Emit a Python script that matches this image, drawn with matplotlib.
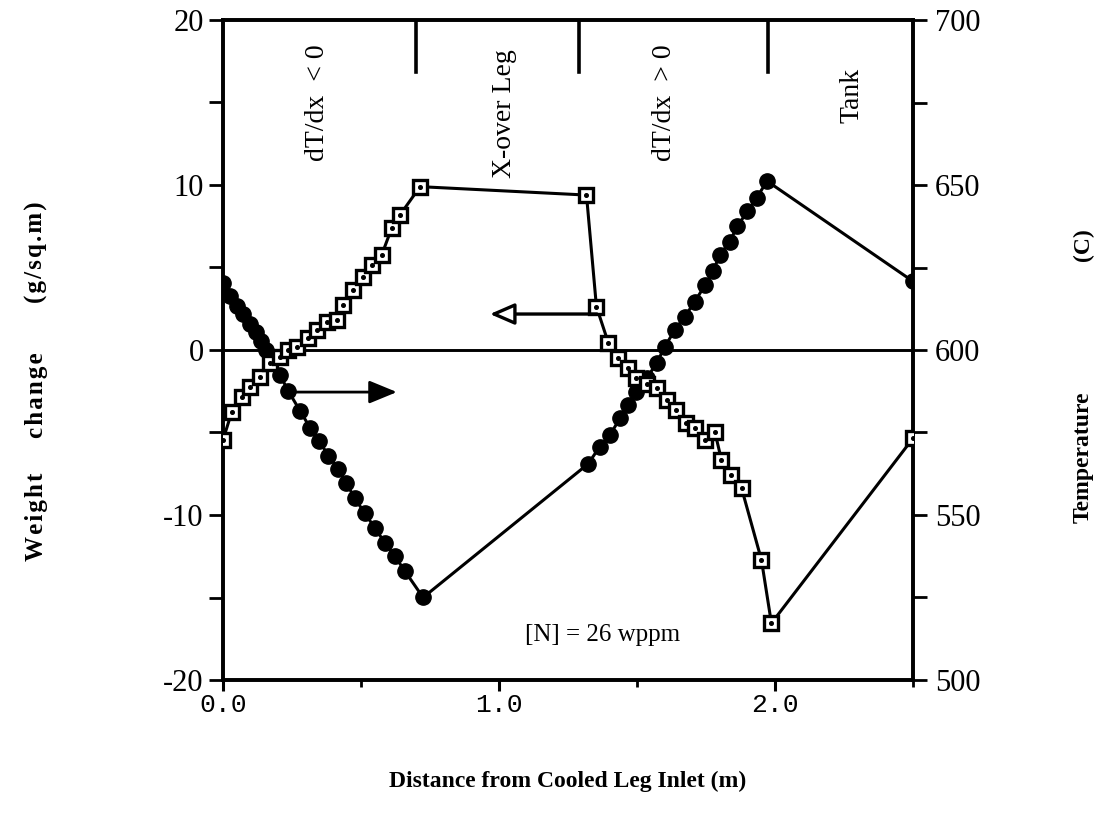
import matplotlib
matplotlib.use("Agg")
import matplotlib.pyplot as plt
from matplotlib.ticker import MultipleLocator, FixedLocator

plt.rcParams['axes.unicode_minus'] = False
plt.rcParams['font.family'] = ['Liberation Serif', 'DejaVu Serif']

# ---- data ----
dist_w = [0.00, 0.032, 0.068, 0.098, 0.134, 0.170, 0.206, 0.237, 0.267, 0.309,
          0.339, 0.376, 0.412, 0.436, 0.472, 0.508, 0.539, 0.575, 0.611, 0.641,
          0.714, 1.317, 1.353, 1.396, 1.432, 1.468, 1.498, 1.535, 1.571, 1.607,
          1.643, 1.679, 1.709, 1.746, 1.782, 1.806, 1.842, 1.879, 1.951, 1.987,
          2.50]
weight = [-5.45, -3.74, -2.83, -2.22, -1.62, -0.81, -0.41, 0.0, 0.2, 0.71,
          1.21, 1.72, 1.82, 2.73, 3.64, 4.44, 5.15, 5.76, 7.38, 8.18,
          9.9, 9.39, 2.63, 0.44, -0.5, -1.11, -1.72, -2.05, -2.32, -3.03,
          -3.64, -4.44, -4.75, -5.45, -4.95, -6.67, -7.58, -8.38, -12.73, -16.56,
          -5.35]

dist_t = [0.0, 0.025, 0.052, 0.074, 0.098, 0.118, 0.136, 0.155, 0.176, 0.206,
          0.237, 0.279, 0.315, 0.349, 0.381, 0.418, 0.446, 0.478, 0.514, 0.551,
          0.587, 0.623, 0.659, 0.725,
          1.323, 1.365, 1.402, 1.438, 1.468, 1.498, 1.535, 1.571, 1.601, 1.637,
          1.673, 1.709, 1.746, 1.776, 1.800, 1.836, 1.864, 1.900, 1.933, 1.971,
          2.50]
temp = [620.2, 616.5, 613.3, 611.0, 608.0, 605.5, 602.6, 600.0, 597.0, 592.5,
        587.5, 581.6, 576.5, 572.5, 568.0, 564.0, 559.8, 555.0, 550.5, 546.0,
        541.5, 537.5, 533.0, 525.0,
        565.5, 570.7, 574.2, 579.3, 583.3, 587.4, 591.4, 596.0, 601.0, 606.1,
        610.1, 614.6, 619.6, 624.0, 628.8, 632.8, 637.6, 642.0, 646.0, 651.2,
        620.8]

region_bounds = [0.70, 1.29, 1.975]
region_labels = ["dT/dx  < 0", "X-over Leg", "dT/dx  > 0", "Tank"]
region_label_x = [0.344, 1.021, 1.601, 2.278]
region_label_y = [15.0, 14.3, 15.0, 15.45]

xticks = [0.0, 1.0, 2.0]
xtick_labels = ["0.0", "1.0", "2.0"]
wticks = [-20, -10, 0, 10, 20]
tticks = [500, 550, 600, 650, 700]

# ---- figure ----
fig = plt.figure(figsize=(11.02, 8.21), dpi=100)
ax = fig.add_axes([223/1102, 1-680/821, (913-223)/1102, (680-20)/821])
ax2 = ax.twinx()

ax.set_xlim(0, 2.5)
ax.set_ylim(-20, 20)
ax2.set_ylim(500, 700)

ax.axhline(0, color='black', lw=2.1, zorder=1)

# temperature (filled circles) on right axis
ax2.plot(dist_t, temp, color='black', lw=2.2, marker='o', ms=11,
         mfc='black', mec='black', zorder=3)

# weight change (squares) on left axis
ax.set_zorder(ax2.get_zorder() + 1)
ax.patch.set_visible(False)
ax.plot(dist_w, weight, color='black', lw=2.2, marker='s', ms=9.5,
        mfc='white', mec='black', mew=2.4, zorder=4)
ax.plot(dist_w, weight, ls='none', marker='o', ms=2.6, mfc='black',
        mec='black', zorder=5)

# region boundary marks from the top
for xb in region_bounds:
    ax.axvline(xb, ymin=1 - 52/660, ymax=1.0, color='black', lw=2.6, zorder=2)

for lab, lx, ly in zip(region_labels, region_label_x, region_label_y):
    ax.text(lx, ly, lab, rotation=90, ha='center', va='center', fontsize=20,
            zorder=6,
            bbox=dict(facecolor='white', edgecolor='none', pad=4))

# arrows
ax.annotate("", xy=(0.630, -2.55), xytext=(0.262, -2.55),
            arrowprops=dict(arrowstyle='-|>,head_length=1.7,head_width=0.7',
                            lw=2.0, color='black', shrinkA=0, shrinkB=0),
            zorder=6)
ax.annotate("", xy=(0.967, 2.18), xytext=(1.355, 2.18),
            arrowprops=dict(arrowstyle='-|>,head_length=1.5,head_width=0.65',
                            lw=2.4, ec='black', fc='white', shrinkA=0, shrinkB=0),
            zorder=6)

ax.text(1.376, -17.27, "[N] = 26 wppm", ha='center', va='center', fontsize=18)

# ---- axes styling ----
for s in ax.spines.values():
    s.set_linewidth(2.6)
for s in ax2.spines.values():
    s.set_linewidth(2.6)

ax.set_xticks(xticks)
ax.set_xticklabels(xtick_labels, family='Liberation Mono', fontsize=19)
ax.xaxis.set_minor_locator(FixedLocator([0.5, 1.5, 2.5]))
ax.tick_params(axis='x', which='major', direction='out', length=8, width=2.2,
               pad=1, top=False)
ax.tick_params(axis='x', which='minor', direction='out', length=5, width=2.0,
               top=False)

ax.set_yticks(wticks)
ax.yaxis.set_minor_locator(MultipleLocator(5))
ax.tick_params(axis='y', which='both', direction='out', length=10, width=2.0,
               labelsize=22, pad=4)

ax2.set_yticks(tticks)
ax2.yaxis.set_minor_locator(MultipleLocator(25))
ax2.tick_params(axis='y', which='both', direction='out', length=10, width=2.0,
                labelsize=22, pad=6)

ax.set_xlabel("Distance from Cooled Leg Inlet (m)", fontsize=17,
              fontweight='bold', labelpad=39)

# y labels as letter-spaced words
def spaced(w):
    return "\u200a".join(w)

for word, yc in [("Weight", 517), ("change", 395), ("(g/sq.m)", 252)]:
    fig.text(36/1102, 1 - yc/821, spaced(word), rotation=90, ha='center',
             va='center', fontsize=18, fontweight='bold')
for word, yc in [("Temperature", 457), ("(C)", 245)]:
    fig.text(1083/1102, 1 - yc/821, word, rotation=90, ha='center', va='center',
             fontsize=17, fontweight='bold')

fig.savefig("out.png", dpi=100)
